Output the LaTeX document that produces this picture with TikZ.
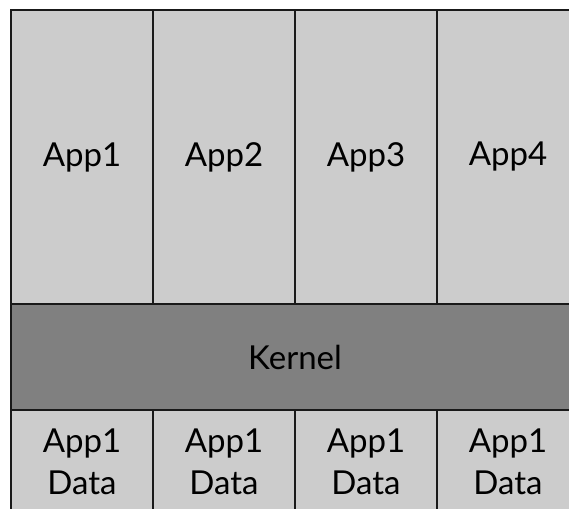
\documentclass[tikz,border=0pt]{standalone}
\usepackage{fontspec}
\setmainfont{Lato}
\usetikzlibrary{positioning}

\begin{document}
\begin{tikzpicture}[x=1pt, y=-1pt]
	\tikzset {node distance=0pt,
		cell/.style={rectangle, draw=black!90, line width=2pt, fill=black!20, minimum width=142pt, inner sep=0pt, outer sep=0pt, align=center, font=\fontsize{33}{42}\selectfont},
		app/.style={cell, minimum height=294pt},
		appdata/.style={cell, minimum height=104pt},
		kernel/.style={cell, fill=black!50, minimum width=568pt, minimum height=106pt} }

	\useasboundingbox (0,0) rectangle (569,508);
	\clip (0,0) rectangle (569,508);

	\node[app, anchor=north west]	(A1) at (11,10)		{App1};
	\node[app]				(A2) [right=of A1]	{App2};
	\node[app]				(A3) [right=of A2]	{App3};
	\node[app]				(A4) [right=of A3]	{App4};

	\node[kernel, anchor=north west]	(K) at (A1.south west)	{Kernel};

	\node[appdata, anchor=north west]	(D1) at (K.south west)	{App1\\Data};
	\node[appdata]			(D2) [right=of D1]	{App1\\Data};
	\node[appdata]			(D3) [right=of D2]	{App1\\Data};
	\node[appdata]			(D4) [right=of D3]	{App1\\Data};

\end{tikzpicture}
\end{document}
